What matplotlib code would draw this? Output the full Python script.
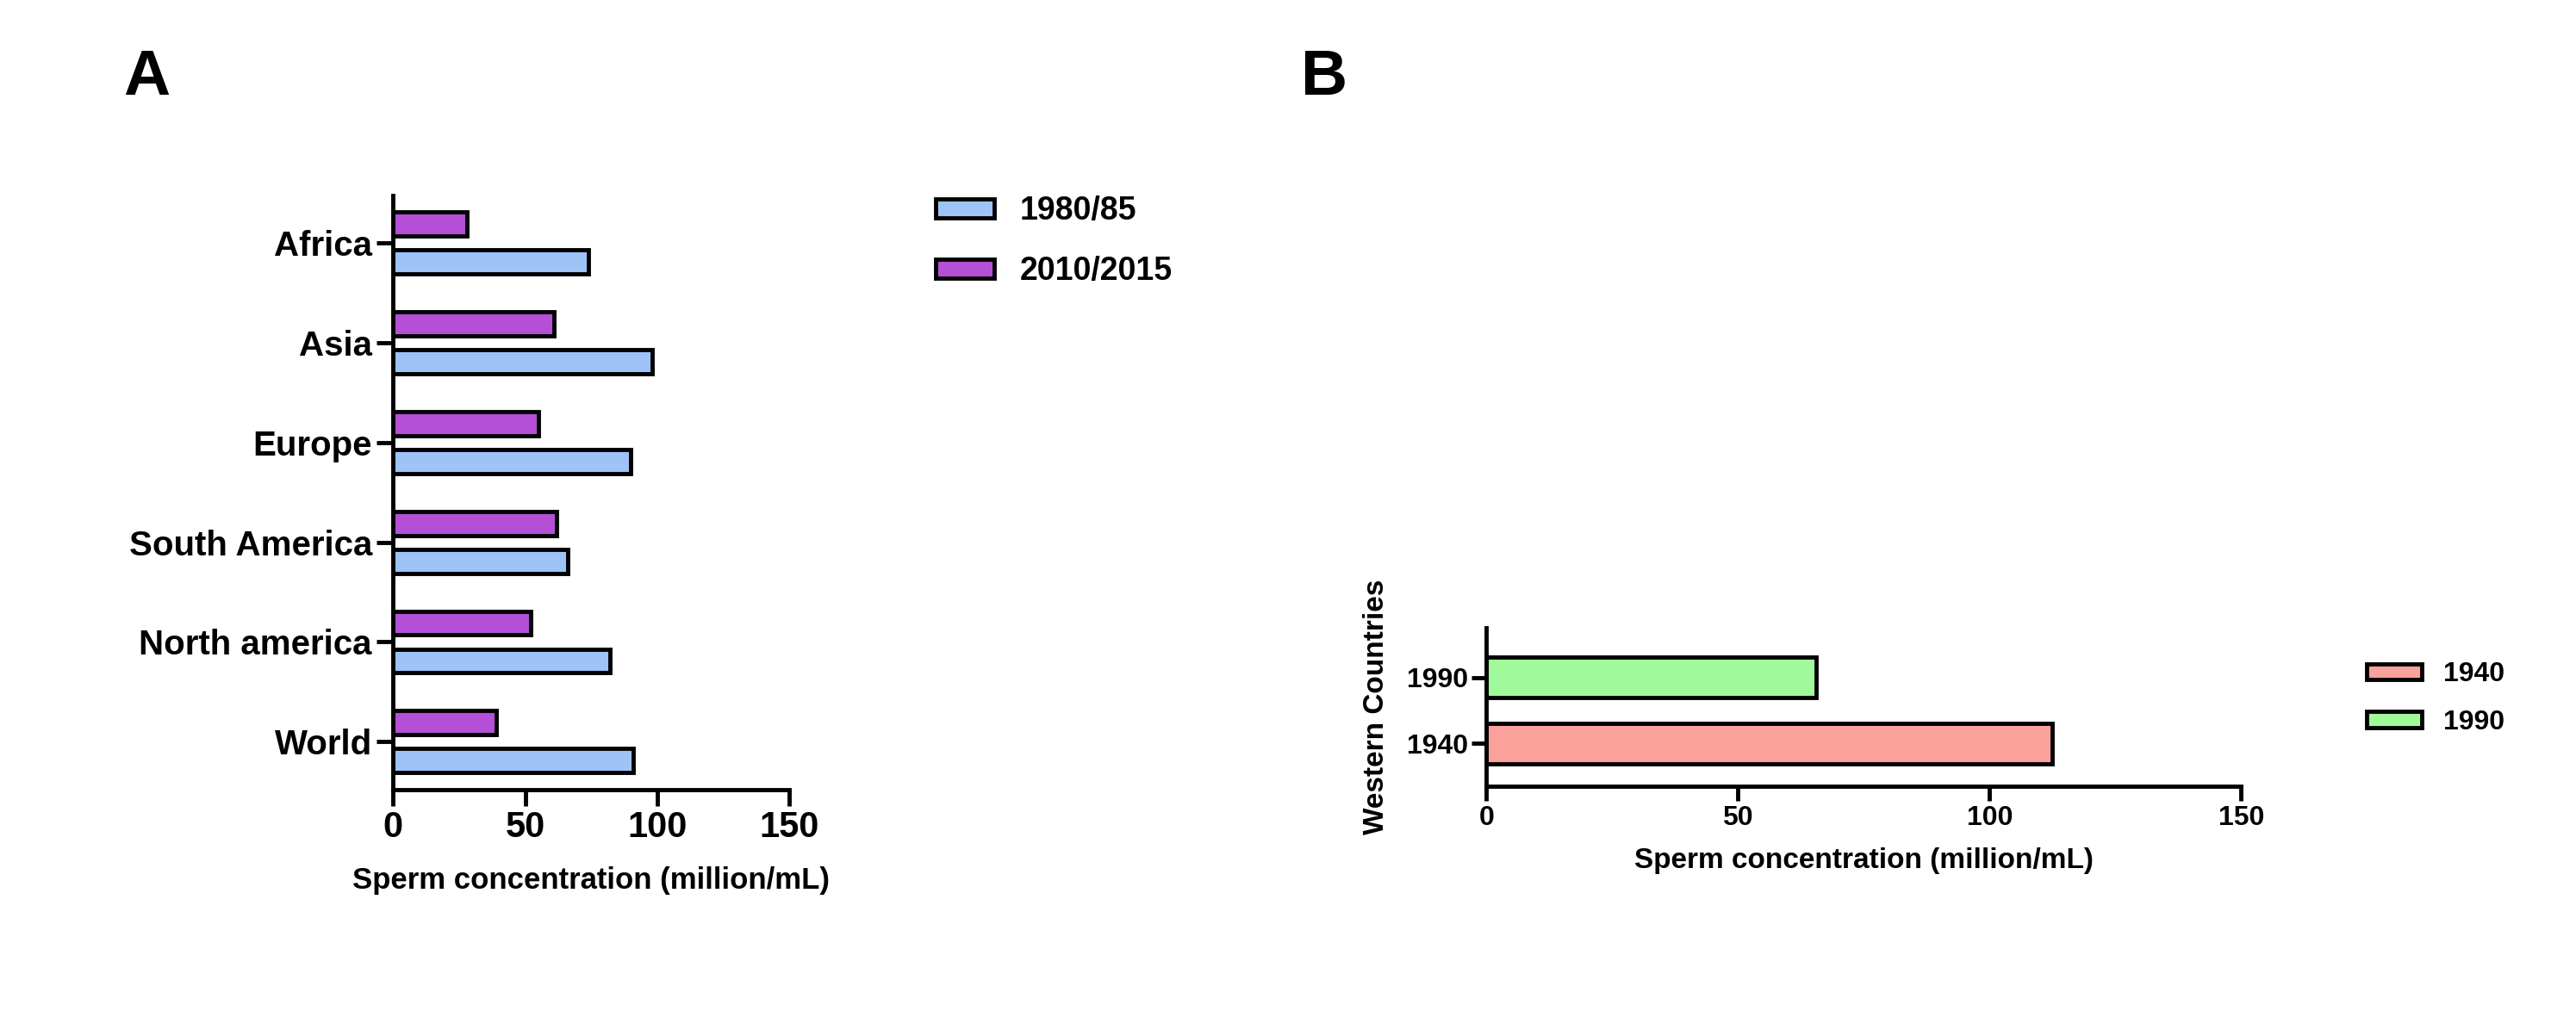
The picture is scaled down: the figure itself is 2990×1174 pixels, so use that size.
import matplotlib
matplotlib.use("Agg")
import matplotlib.pyplot as plt
import numpy as np

plt.rcParams['font.family'] = ['Liberation Sans', 'DejaVu Sans']
plt.rcParams['font.weight'] = 'bold'

regions = ["World", "North america", "South America", "Europe", "Asia", "Africa"]
v1980 = [91, 82, 66, 90, 98, 74]
v2010 = [39, 52, 62, 55, 61, 28]

b_cats = ["1940", "1990"]
b_vals = [112.5, 65.5]
b_colors = ["#F9A19A", "#A0F99A"]

blue = "#9DC3F7"
purple = "#B44FD6"
lw = 3.5

fig = plt.figure(figsize=(29.9, 11.74), dpi=100)

axA = fig.add_axes([0.1526, 0.219, 0.1538, 0.588])
y = np.arange(len(regions))
h = 0.24
axA.barh(y - 0.19, v1980, height=h, color=blue, edgecolor='black', linewidth=lw, label="1980/85")
axA.barh(y + 0.19, v2010, height=h, color=purple, edgecolor='black', linewidth=lw, label="2010/2015")
axA.set_yticks(y)
axA.set_yticklabels(regions, fontsize=29, fontweight='bold')
axA.set_xlim(0, 150)
axA.set_xticks([0, 50, 100, 150])
axA.tick_params(axis='x', labelsize=30, width=lw, length=14)
axA.tick_params(axis='y', width=lw, length=14)
axA.set_ylim(-0.48, 5.48)
axA.set_xlabel("Sperm concentration (million/mL)", fontsize=25, fontweight='bold', labelpad=18)
for s in ['top', 'right']:
    axA.spines[s].set_visible(False)
for s in ['left', 'bottom']:
    axA.spines[s].set_linewidth(lw)
hA, lA = axA.get_legend_handles_labels()
fig.legend(hA, lA, loc='upper left', bbox_to_anchor=(0.352, 0.835), frameon=False,
           fontsize=27, handlelength=1.8, handleheight=0.5, labelspacing=0.9)

axB = fig.add_axes([0.577, 0.222, 0.293, 0.157])
yb = np.arange(len(b_cats))
bars = axB.barh(yb, b_vals, height=0.62, color=b_colors, edgecolor='black', linewidth=lw)
axB.set_yticks(yb)
axB.set_yticklabels(b_cats, fontsize=23, fontweight='bold')
axB.set_xlim(0, 150)
axB.set_xticks([0, 50, 100, 150])
axB.tick_params(axis='x', labelsize=23, width=lw, length=12)
axB.tick_params(axis='y', width=lw, length=12)
axB.set_ylim(-0.65, 1.75)
axB.set_xlabel("Sperm concentration (million/mL)", fontsize=24, fontweight='bold', labelpad=14)
axB.set_ylabel("Western Countries", fontsize=24, fontweight='bold', labelpad=14)
for s in ['top', 'right']:
    axB.spines[s].set_visible(False)
for s in ['left', 'bottom']:
    axB.spines[s].set_linewidth(lw)
fig.legend(bars, b_cats, loc='upper left', bbox_to_anchor=(0.909, 0.37), frameon=False,
           fontsize=23, handlelength=2.0, handleheight=0.5, labelspacing=0.8)

fig.text(0.048, 0.923, "A", fontsize=54, fontweight='bold', va='center')
fig.text(0.505, 0.923, "B", fontsize=54, fontweight='bold', va='center')

fig.savefig("out.png", dpi=100)
